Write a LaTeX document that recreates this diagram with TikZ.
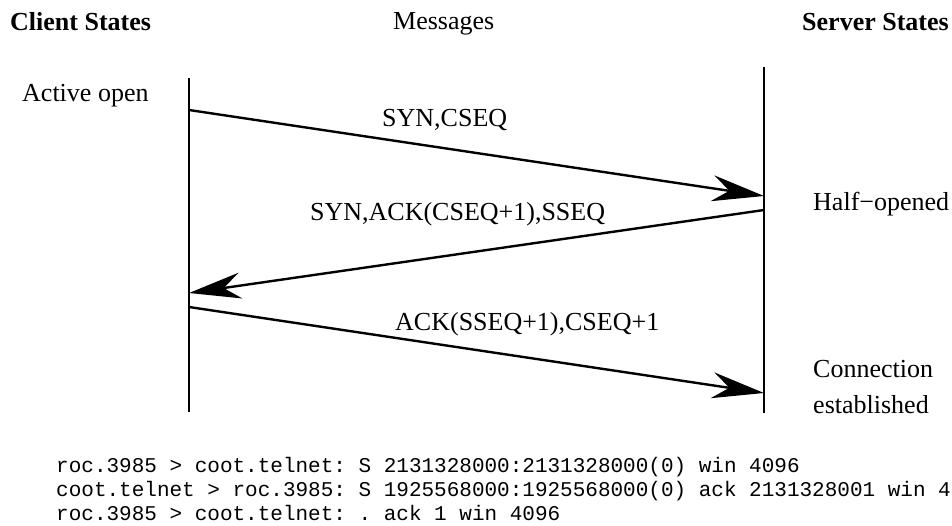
\documentclass[tikz,border=0pt]{standalone}
\usepackage{fontspec}
\setmainfont{Liberation Serif}
\setmonofont{Liberation Mono}
\usetikzlibrary{arrows.meta}
\tikzset{
  lbl/.style={inner sep=0pt, anchor=base west, font=\fontsize{26}{30}\selectfont},
  hdr/.style={lbl, font=\fontsize{26}{30}\selectfont\bfseries},
  trace/.style={inner sep=0pt, anchor=base west, font=\fontsize{21}{24}\selectfont\ttfamily},
  life/.style={line width=2pt},
  msg/.style={line width=2.4pt, -{Stealth[length=52pt, width=26pt, inset=17pt]}}
}
\begin{document}
\begin{tikzpicture}[x=1pt, y=-1pt]
\useasboundingbox (0,0) rectangle (952,525);
\clip (0,0) rectangle (952,525);
% headers
\node[hdr] (ch) at (10,30.5) {Client States};
\node[lbl] (mh) at (393,29.5) {Messages};
\node[hdr] (sh) at (802,30.5) {Server States};
% lifelines
\coordinate (ctop) at (189,78);
\coordinate (cbot) at (189,412);
\coordinate (stop) at (764,67);
\coordinate (sbot) at (764,413);
\draw[life] (ctop) -- (cbot);
\draw[life] (stop) -- (sbot);
% message end points
\coordinate (a1s) at (189,110);
\coordinate (a1e) at (764,196);
\coordinate (a2s) at (764,210);
\coordinate (a2e) at (189,293);
\coordinate (a3s) at (189,307);
\coordinate (a3e) at (764,393);
\draw[msg] (a1s) -- (a1e);
\draw[msg] (a2s) -- (a2e);
\draw[msg] (a3s) -- (a3e);
% labels
\node[lbl] (act) at (22,101.5) {Active open};
\node[lbl] (m1) at (382,126) {SYN,CSEQ};
\node[lbl] (m2) at (310,220) {SYN,ACK(CSEQ+1),SSEQ};
\node[lbl] (m3) at (395,330) {ACK(SSEQ+1),CSEQ+1};
\node[lbl] (half) at (813,210) {Half−opened};
\node[lbl] (conn) at (813,377) {Connection};
\node[lbl] (est) at (813,413) {established};
% trace
\node[trace] (t1) at (56,472.7) {roc.3985 > coot.telnet: S 2131328000:2131328000(0) win 4096};
\node[trace] (t2) at (56,496.7) {coot.telnet > roc.3985: S 1925568000:1925568000(0) ack 2131328001 win 4096};
\node[trace] (t3) at (56,520.7) {roc.3985 > coot.telnet: . ack 1 win 4096};
\end{tikzpicture}
\end{document}
